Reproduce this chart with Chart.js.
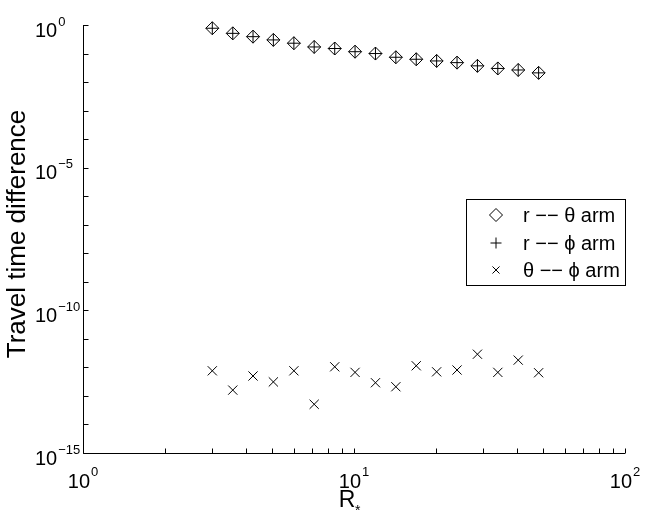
<!DOCTYPE html>
<html>
<head>
<meta charset="utf-8">
<script src="https://cdn.jsdelivr.net/npm/chart.js@4.4.1/dist/chart.umd.min.js"></script>
<style>
  html, body { margin: 0; padding: 0; background: #fff; }
  #wrap { width: 654px; height: 510px; position: relative; }
</style>
</head>
<body>
<div id="wrap"><canvas id="c" width="654" height="510"></canvas></div>
<script>
// ---- data ----
const rValues = [3, 3.57, 4.24, 5.04, 6, 7.13, 8.49, 10.09, 12, 14.27, 16.97, 20.18, 24, 28.54, 33.94, 40.36, 48];
const rThetaArm = [0.77, 0.51, 0.39, 0.30, 0.23, 0.17, 0.15, 0.116, 0.100, 0.074, 0.063, 0.055, 0.048, 0.037, 0.030, 0.0265, 0.021];
const rPhiArm = [0.77, 0.51, 0.39, 0.30, 0.23, 0.17, 0.15, 0.116, 0.100, 0.074, 0.063, 0.055, 0.048, 0.037, 0.030, 0.0265, 0.021];
const thetaPhiArm = [7.6e-13, 1.6e-13, 5.0e-13, 3.1e-13, 7.6e-13, 5.1e-14, 1.05e-12, 6.7e-13, 2.9e-13, 2.1e-13, 1.14e-12, 7.0e-13, 8.1e-13, 2.9e-12, 6.7e-13, 1.8e-12, 6.5e-13];

const seriesNames = ['r \u2212\u2212 \u03B8 arm', 'r \u2212\u2212 \u03D5 arm', '\u03B8 \u2212\u2212 \u03D5 arm'];
const xMajorTicks = [1, 10, 100];
const xMinorTicks = [2, 3, 4, 5, 6, 7, 8, 9, 20, 30, 40, 50, 60, 70, 80, 90];
const yTickExps = [0, -5, -10, -15];
const yMinorExps = [-1, -2, -3, -4, -6, -7, -8, -9, -11, -12, -13, -14];
const xTickExps = [0, 1, 2];

const FONT = '"Liberation Sans", Arial, Helvetica, sans-serif';

function pts(ys) { return rValues.map((x, i) => ({ x: x, y: ys[i] })); }

const axesPlugin = {
  id: 'matlabAxes',
  afterDraw(chart) {
    const ctx = chart.ctx;
    const xs = chart.scales.x, ys = chart.scales.y;
    const L = Math.round(xs.left) + 0.5, R = Math.round(xs.right);
    const T = Math.round(ys.top), B = Math.round(ys.bottom) + 0.5;
    ctx.save();
    ctx.strokeStyle = '#000';
    ctx.fillStyle = '#000';
    ctx.lineWidth = 1;
    // axis lines
    ctx.beginPath();
    ctx.moveTo(L, T); ctx.lineTo(L, B);
    ctx.lineTo(R, B);
    ctx.stroke();
    // ticks (inward)
    const tl = 5;
    ctx.beginPath();
    xMajorTicks.concat(xMinorTicks).forEach(v => {
      const px = Math.round(xs.getPixelForValue(v)) + 0.5;
      ctx.moveTo(px, B); ctx.lineTo(px, B - tl);
    });
    yTickExps.concat(yMinorExps).forEach(e => {
      const py = Math.round(ys.getPixelForValue(Math.pow(10, e))) + 0.5;
      ctx.moveTo(L, py); ctx.lineTo(L + tl, py);
    });
    ctx.stroke();

    // tick labels
    const baseFont = '20px ' + FONT, expFont = '13px ' + FONT;
    ctx.textBaseline = 'middle';
    yTickExps.forEach(e => {
      const py = ys.getPixelForValue(Math.pow(10, e));
      ctx.font = baseFont; ctx.textAlign = 'left';
      ctx.fillText('10', 35, py + 6);
      const w = ctx.measureText('10').width;
      ctx.font = expFont;
      ctx.fillText(e < 0 ? '\u2212' + (-e) : String(e), 35 + w + 1, py - 3);
    });
    xTickExps.forEach(e => {
      const px = xs.getPixelForValue(Math.pow(10, e));
      ctx.font = baseFont;
      const w1 = ctx.measureText('10').width;
      ctx.font = expFont;
      const s = String(e);
      const w2 = ctx.measureText(s).width;
      const start = px - (w1 + 1 + w2) / 2;
      ctx.textAlign = 'left';
      ctx.font = baseFont; ctx.fillText('10', start, 482);
      ctx.font = expFont; ctx.fillText(s, start + w1 + 1, 472);
    });

    // axis titles
    ctx.textBaseline = 'alphabetic';
    ctx.font = '23px ' + FONT;
    ctx.textAlign = 'center';
    ctx.fillText('R', 347, 507);
    ctx.font = '14px ' + FONT;
    ctx.textAlign = 'left';
    ctx.fillText('*', 355, 515);
    ctx.save();
    ctx.translate(25, 234);
    ctx.rotate(-Math.PI / 2);
    ctx.font = '26px ' + FONT;
    ctx.textAlign = 'center';
    ctx.fillText('Travel time difference', 0, 0);
    ctx.restore();

    // legend
    const bx = 466.5, by = 199.5, bw = 159, bh = 86;
    ctx.fillStyle = '#fff';
    ctx.fillRect(bx, by, bw, bh);
    ctx.strokeStyle = '#000';
    ctx.strokeRect(bx, by, bw, bh);
    const rows = [215, 243, 270];
    const styles = [
      { pointStyle: 'rectRot', radius: 6.5 },
      { pointStyle: 'cross', radius: 5.5 },
      { pointStyle: 'crossRot', radius: 5 }
    ];
    rows.forEach((ry, i) => {
      ctx.lineWidth = 1;
      ctx.strokeStyle = '#000';
      ctx.fillStyle = 'rgba(0,0,0,0)';
      Chart.helpers.drawPoint(ctx, { pointStyle: styles[i].pointStyle, radius: styles[i].radius, rotation: 0, borderWidth: 1 }, 496, ry);
      ctx.fillStyle = '#000';
      ctx.font = '20px ' + FONT;
      ctx.textAlign = 'left';
      ctx.textBaseline = 'middle';
      ctx.fillText(seriesNames[i], 523, ry + 1);
    });
    ctx.restore();
  }
};

new Chart(document.getElementById('c'), {
  type: 'scatter',
  data: {
    datasets: [
      { label: seriesNames[0], data: pts(rThetaArm), pointStyle: 'rectRot', pointRadius: 6.5, pointHoverRadius: 6.5,
        borderColor: '#000', backgroundColor: 'rgba(0,0,0,0)', borderWidth: 1, showLine: false, clip: false },
      { label: seriesNames[1], data: pts(rPhiArm), pointStyle: 'cross', pointRadius: 6.5, pointHoverRadius: 6.5,
        borderColor: '#000', backgroundColor: 'rgba(0,0,0,0)', borderWidth: 1, showLine: false, clip: false },
      { label: seriesNames[2], data: pts(thetaPhiArm), pointStyle: 'crossRot', pointRadius: 6.5, pointHoverRadius: 6.5,
        borderColor: '#000', backgroundColor: 'rgba(0,0,0,0)', borderWidth: 1, showLine: false, clip: false }
    ]
  },
  options: {
    responsive: false,
    animation: false,
    devicePixelRatio: 1,
    layout: { padding: { left: 83, right: 29, top: 25, bottom: 57 } },
    plugins: { legend: { display: false }, tooltip: { enabled: false } },
    scales: {
      x: { type: 'logarithmic', min: 1, max: 100, display: false },
      y: { type: 'logarithmic', min: 1e-15, max: 1, display: false }
    }
  },
  plugins: [axesPlugin]
});
</script>
</body>
</html>
